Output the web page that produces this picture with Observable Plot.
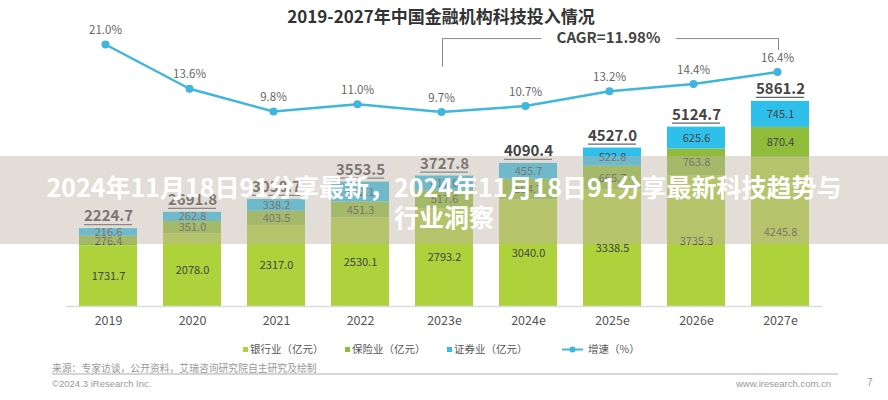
<!DOCTYPE html>
<html><head><meta charset="utf-8">
<script src="https://cdn.jsdelivr.net/npm/d3@7"></script>
<script src="https://cdn.jsdelivr.net/npm/@observablehq/plot@0.6"></script>
<style>
body{margin:0;background:#fff;}
#wrap{position:relative;width:888px;height:400px;overflow:hidden;background:#fff;font-family:'Noto Sans CJK SC','Noto Sans',sans-serif;}
#chart{position:absolute;left:0;top:0;}
#title{position:absolute;left:0;top:4px;width:882px;text-align:center;font-size:17px;font-weight:bold;color:#333;line-height:24px;}
.lg{position:absolute;top:341px;height:16px;line-height:16px;font-size:10.5px;color:#555;white-space:nowrap;}
.sq{position:absolute;top:6px;width:5px;height:5px;}
#src{position:absolute;left:52px;top:361px;font-size:9.8px;color:#999;line-height:14px;white-space:nowrap;}
#divider{position:absolute;left:52px;top:373px;width:786px;height:1.5px;background:#d6d6d6;}
#copy{position:absolute;left:52px;top:377px;font-family:'Liberation Sans',Arial,sans-serif;font-size:9.5px;color:#999;line-height:13px;}
#web{position:absolute;left:736px;top:377px;font-family:'Liberation Sans',Arial,sans-serif;font-size:9.5px;color:#999;line-height:13px;}
#page{position:absolute;left:867px;top:376px;font-family:'Liberation Sans',Arial,sans-serif;font-size:10px;color:#999;line-height:13px;}
#banner{position:absolute;left:0;top:156px;width:888px;height:88px;background:rgba(190,180,165,0.45);box-sizing:border-box;padding-top:15px;text-align:center;color:#fff;font-weight:bold;font-size:25px;line-height:30px;}
</style></head>
<body>
<div id="wrap">
  <div id="chart"></div>
  <div id="title"></div>
  <div id="legend"></div>
  <div id="src"></div>
  <div id="divider"></div>
  <div id="copy"></div>
  <div id="web"></div>
  <div id="page"></div>
  <div id="banner"></div>
</div>
<script>
// ---- data ----
const years = ["2019", "2020", "2021", "2022", "2023e", "2024e", "2025e", "2026e", "2027e"];
const bank = [1731.7, 2078.0, 2317.0, 2530.1, 2793.2, 3040.0, 3338.5, 3735.3, 4245.8];
const insurance = [276.4, 351.0, 403.5, 451.3, 517.6, 594.7, 665.7, 763.8, 870.4];
const securities = [216.6, 262.8, 338.2, 572.1, 417.0, 455.7, 522.8, 625.6, 745.1];
const totals = [2224.7, 2691.8, 3058.7, 3553.5, 3727.8, 4090.4, 4527.0, 5124.7, 5861.2];
const growth = [21.0, 13.6, 9.8, 11.0, 9.7, 10.7, 13.2, 14.4, 16.4];
const seriesKeys = ["银行业", "保险业", "证券业"];
const legendLabels = ["银行业（亿元）", "保险业（亿元）", "证券业（亿元）", "增速（%）"];
const titleText = "2019-2027年中国金融机构科技投入情况";
const cagrText = "CAGR=11.98%";
const sourceText = "来源：专家访谈，公开资料，艾瑞咨询研究院自主研究及绘制";
const copyText = "©2024.3 iResearch Inc.";
const webText = "www.iresearch.com.cn";
const pageText = "7";
const bannerLines = ["2024年11月18日91分享最新，2024年11月18日91分享最新科技趋势与", "行业洞察"];

// ---- styles ----
const colors = ["#aed23c", "#8fbd3b", "#2ec0ea"];
const lineColor = "#40b6dc";

// growth (%) on secondary axis, mapped into the bar value domain
const growthBase = 3897, growthPerPct = 170.9;
const gy = g => growthBase + growthPerPct * g;
// CAGR bracket levels (in bar value units)
const cagrLevel = 7655, cagrLeftLow = 6860, cagrRightLow = 7340;

const long = years.flatMap((y, i) => [
  {year: y, series: seriesKeys[0], value: bank[i]},
  {year: y, series: seriesKeys[1], value: insurance[i]},
  {year: y, series: seriesKeys[2], value: securities[i]}
]);
const tot = years.map((y, i) => ({year: y, total: totals[i], growth: growth[i]}));
const bracket = [
  {x: years[4], y: cagrLeftLow}, {x: years[4], y: cagrLevel},
  {x: years[8], y: cagrLevel}, {x: years[8], y: cagrRightLow}
];

const chart = Plot.plot({
  width: 888, height: 400,
  marginLeft: 66, marginRight: 66, marginTop: 96, marginBottom: 94,
  style: {fontFamily: "'Noto Sans CJK SC','Noto Sans',sans-serif", fontSize: "12.5px", color: "#555", background: "transparent"},
  x: {domain: years, paddingInner: 0.31, paddingOuter: 0.155, label: null, tickSize: 0, tickPadding: 10},
  y: {domain: [0, 6000], axis: null},
  color: {domain: seriesKeys, range: colors},
  marks: [
    Plot.barY(long, {x: "year", y: "value", fill: "series", order: seriesKeys}),
    Plot.text(long, Plot.stackY({x: "year", y: "value", z: "series", order: seriesKeys,
      text: d => d.value.toFixed(1), fill: "#444", fontSize: 11})),
    Plot.ruleY([0], {stroke: "#dcdcdc", strokeWidth: 1.5}),
    Plot.tickY(tot, {x: "year", y: "total", dy: -4, inset: 5, stroke: "#666", strokeWidth: 1.3}),
    Plot.text(tot, {x: "year", y: "total", text: d => d.total.toFixed(1), dy: -12,
      fontSize: 15, fontWeight: "bold", fill: "#444"}),
    Plot.line(tot, {x: "year", y: d => gy(d.growth), dx: -3, stroke: lineColor, strokeWidth: 2.5}),
    Plot.dot(tot, {x: "year", y: d => gy(d.growth), dx: -3, r: 4, fill: lineColor}),
    Plot.text(tot, {x: "year", y: d => gy(d.growth), dx: -3, dy: -14, text: d => d.growth.toFixed(1) + "%",
      fill: "#666", fontSize: 11.5}),
    Plot.line(bracket, {x: "x", y: "y", dx: -2, stroke: "#888", strokeWidth: 1}),
    Plot.text([cagrText], {x: () => years[6], y: () => cagrLevel, dx: -4, text: d => d,
      fontSize: 15, fontWeight: "bold", fill: "#444", stroke: "white", strokeWidth: 32,
      paintOrder: "stroke", strokeLinejoin: "round"})
  ]
});
document.getElementById("chart").appendChild(chart);

// ---- texts & legend ----
document.getElementById("title").textContent = titleText;
document.getElementById("src").textContent = sourceText;
document.getElementById("copy").textContent = copyText;
document.getElementById("web").textContent = webText;
document.getElementById("page").textContent = pageText;
document.getElementById("banner").innerHTML = bannerLines.join("<br>");

const legend = document.getElementById("legend");
const legendX = [243, 345, 447];
legendLabels.slice(0, 3).forEach((lab, i) => {
  const item = document.createElement("div");
  item.className = "lg";
  item.style.left = legendX[i] + "px";
  item.innerHTML = `<span class="sq" style="left:0;background:${colors[i]}"></span><span style="margin-left:7px">${lab}</span>`;
  legend.appendChild(item);
});
const gItem = document.createElement("div");
gItem.className = "lg";
gItem.style.left = "562px";
gItem.innerHTML = `<svg width="22" height="16" style="position:absolute;left:0;top:0"><line x1="0" y1="8.5" x2="21" y2="8.5" stroke="${lineColor}" stroke-width="2"/><circle cx="10.5" cy="8.5" r="3" fill="${lineColor}"/></svg><span style="margin-left:26px">${legendLabels[3]}</span>`;
legend.appendChild(gItem);
</script>
</body></html>
